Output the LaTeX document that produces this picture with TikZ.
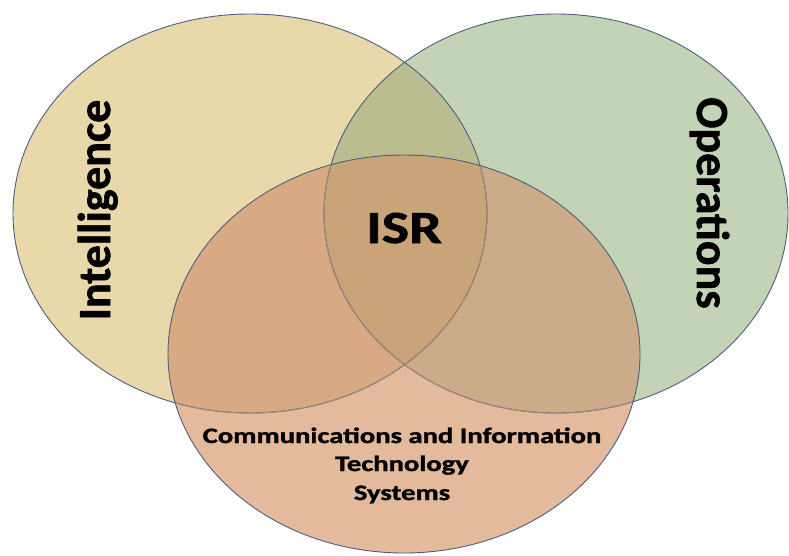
\documentclass[tikz,border=0pt]{standalone}
\usepackage{fontspec}
\setmainfont{Carlito}
\newfontfamily\heavyface[FakeBold=1.3]{Carlito Bold}
\definecolor{yonly}{HTML}{E8D8AA}
\definecolor{gonly}{HTML}{C3D4B6}
\definecolor{conly}{HTML}{E3BA9C}
\definecolor{ygcol}{HTML}{B9BD8F}
\definecolor{yccol}{HTML}{D8A982}
\definecolor{gccol}{HTML}{CCAB88}
\definecolor{ygccol}{HTML}{C8A478}
\definecolor{edge}{HTML}{4F5F7F}
\definecolor{edgein}{HTML}{A08C78}
\tikzset{
  bigword/.style={font=\heavyface\fontsize{46}{46}\selectfont, inner sep=0pt, anchor=base, text=black},
  smallword/.style={font=\heavyface\fontsize{22}{22}\selectfont, inner sep=0pt, anchor=base, xscale=1.3, text=black},
  outline/.style={draw=edge, line width=0.9pt},
  inline/.style={draw=edgein, line width=0.8pt}
}
\newcommand{\ellY}{(250,213.5) ellipse [x radius=237pt, y radius=199.5pt]}
\newcommand{\ellG}{(556,213.5) ellipse [x radius=232pt, y radius=199.5pt]}
\newcommand{\ellC}{(404,354) ellipse [x radius=236pt, y radius=199pt]}
\begin{document}
\begin{tikzpicture}[x=1pt,y=-1pt]
\useasboundingbox (0,0) rectangle (789,555);
\fill[white] (0,0) rectangle (789,555);
% single regions
\fill[yonly] \ellY;
\fill[gonly] \ellG;
\fill[conly] \ellC;
% pairwise overlaps
\begin{scope}
  \clip \ellY;
  \fill[ygcol] \ellG;
  \fill[yccol] \ellC;
\end{scope}
\begin{scope}
  \clip \ellG;
  \fill[gccol] \ellC;
\end{scope}
\begin{scope}
  \clip \ellY;
  \clip \ellG;
  \fill[ygccol] \ellC;
\end{scope}
% outlines
\draw[outline] \ellY;
\draw[outline] \ellG;
\begin{scope}
  \clip \ellC;
  \draw[inline] \ellY;
  \draw[inline] \ellG;
\end{scope}
\draw[outline] \ellC;
% texts
\node[bigword, rotate=90] (intel) at (110,210) {Intelligence};
\node[bigword, rotate=-90] (ops) at (697,203) {Operations};
\node[bigword, xscale=1.26] (isr) at (404,243) {ISR};
\node[smallword] (comm1) at (402,443) {Communications and Information};
\node[smallword] (comm2) at (402,471) {Technology};
\node[smallword] (comm3) at (402,500) {Systems};
\end{tikzpicture}
\end{document}
